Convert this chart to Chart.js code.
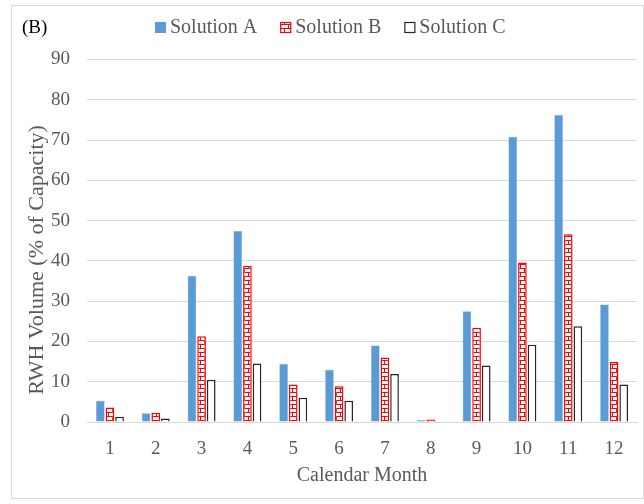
<!DOCTYPE html>
<html>
<head>
<meta charset="utf-8">
<script src="https://cdn.jsdelivr.net/npm/chart.js@4/dist/chart.umd.min.js"></script>
<style>
  body { margin: 0; background: #fff; }
  #wrap { width: 644px; height: 504px; }
</style>
</head>
<body>
<div id="wrap"><canvas id="rwhChart" width="644" height="504"></canvas></div>
<script>
const months = ['1', '2', '3', '4', '5', '6', '7', '8', '9', '10', '11', '12'];
const solutionA = [5.3, 2.2, 36.3, 47.4, 14.4, 13.0, 19.0, 0.5, 27.5, 70.8, 76.2, 29.2];
const solutionB = [3.6, 2.3, 21.3, 38.8, 9.3, 8.9, 16.0, 0.6, 23.4, 39.6, 46.6, 14.9];
const solutionC = [1.3, 0.9, 10.5, 14.5, 6.0, 5.3, 11.9, 0.0, 14.0, 19.2, 23.8, 9.3];
const seriesNames = ['Solution A', 'Solution B', 'Solution C'];
const yTitle = 'RWH Volume (% of Capacity)';

const FONT = '"Liberation Serif", "Times New Roman", serif';
const GRAY = '#595959';

// red brick pattern for solution B
function makeBrickPattern() {
    const c = document.createElement('canvas');
    c.width = 8;
    c.height = 8;
    const g = c.getContext('2d');
    g.fillStyle = '#ffffff';
    g.fillRect(0, 0, 8, 8);
    g.fillStyle = '#ff0000';
    g.fillRect(0, 0, 8, 1);
    g.fillRect(0, 4, 8, 1);
    g.fillRect(0, 0, 1, 4);
    g.fillRect(4, 4, 1, 4);
    return g.createPattern(c, 'repeat');
}
const brick = makeBrickPattern();

const frameAndLabels = {
    id: 'frameAndLabels',
    afterDraw(chart) {
        const ctx = chart.ctx;
        ctx.save();
        // outer frame
        ctx.strokeStyle = '#d9d9d9';
        ctx.lineWidth = 1;
        ctx.strokeRect(11.5, 5.5, 632, 493);

        ctx.textBaseline = 'middle';
        ctx.font = '19px ' + FONT;
        ctx.fillStyle = '#000';
        ctx.fillText('(B)', 22, 28);

        // y axis title (sits a bit below the plot centre in the original)
        ctx.save();
        ctx.translate(37, 260);
        ctx.rotate(-Math.PI / 2);
        ctx.textAlign = 'center';
        ctx.font = '22px ' + FONT;
        ctx.fillStyle = GRAY;
        ctx.fillText(yTitle, 0, 0);
        ctx.restore();

        // legend
        ctx.font = '20px ' + FONT;
        let x = 155;
        const y = 28;
        chart.data.datasets.forEach(ds => {
            ctx.fillStyle = ds.backgroundColor;
            ctx.fillRect(x, y - 6, 11, 11);
            if (ds.legendBorder) {
                ctx.strokeStyle = ds.legendBorder;
                ctx.lineWidth = 1.2;
                ctx.strokeRect(x + 0.5, y - 5.5, 10, 10);
            }
            ctx.fillStyle = GRAY;
            ctx.fillText(ds.label, x + 15, y);
            x += 15 + ctx.measureText(ds.label).width + 23;
        });
        ctx.restore();
    }
};

new Chart(document.getElementById('rwhChart'), {
    type: 'bar',
    data: {
        labels: months,
        datasets: [
            {
                label: seriesNames[0],
                data: solutionA,
                backgroundColor: '#5b9bd5',
                borderColor: '#7fb0de',
                borderWidth: 0.5
            },
            {
                label: seriesNames[1],
                data: solutionB,
                backgroundColor: brick,
                borderColor: '#ff0000',
                borderWidth: 1.5,
                legendBorder: '#ff0000'
            },
            {
                label: seriesNames[2],
                data: solutionC,
                backgroundColor: '#ffffff',
                borderColor: '#262626',
                borderWidth: 1.5,
                legendBorder: '#262626'
            }
        ]
    },
    options: {
        responsive: false,
        animation: false,
        layout: { padding: { left: 0, top: 59.5, right: 7, bottom: 0 } },
        categoryPercentage: 0.63,
        barPercentage: 0.9,
        plugins: {
            legend: { display: false },
            tooltip: { enabled: false }
        },
        scales: {
            x: {
                grid: { display: false, drawTicks: false },
                border: { color: '#d9d9d9' },
                ticks: { color: GRAY, font: { family: FONT, size: 19 }, padding: 16 },
                title: {
                    display: true,
                    text: 'Calendar Month',
                    color: GRAY,
                    font: { family: FONT, size: 20 },
                    padding: { top: 0, bottom: 16 }
                },
                afterFit(scale) { scale.height = 82; }
            },
            y: {
                min: 0,
                max: 90,
                ticks: { stepSize: 10, color: GRAY, font: { family: FONT, size: 19 }, padding: 17 },
                grid: { color: '#d9d9d9', drawTicks: false },
                border: { display: false },
                afterFit(scale) { scale.width = 87; }
            }
        }
    },
    plugins: [frameAndLabels]
});
</script>
</body>
</html>
